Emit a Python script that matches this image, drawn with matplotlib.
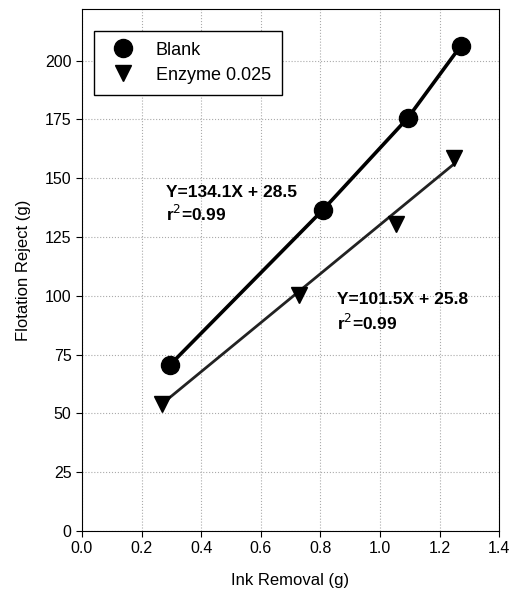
import matplotlib
matplotlib.use("Agg")
import matplotlib.pyplot as plt

plt.rcParams['font.family'] = ['Liberation Sans', 'DejaVu Sans']

# data
blank_x = [0.295, 0.809, 1.094, 1.272]
blank_y = [70.6, 136.6, 175.7, 206.4]
enz_x = [0.268, 0.730, 1.054, 1.248]
enz_y = [54.0, 100.5, 130.5, 158.7]

# fitted line for the enzyme series, end points as drawn in the picture
enz_line_x = [0.268, 1.248]
enz_line_y = [54.0, 156.0]

x_ticks = [0.0, 0.2, 0.4, 0.6, 0.8, 1.0, 1.2, 1.4]
y_ticks = [0, 25, 50, 75, 100, 125, 150, 175, 200]

fig = plt.figure(figsize=(5.14, 5.94), dpi=100)
ax = fig.add_axes([0.1595, 0.106, 0.8115, 0.879])

# lines behind, markers on top
ax.plot(blank_x, blank_y, color='black', lw=2.6, zorder=2)
ax.plot(enz_line_x, enz_line_y, color='#222222', lw=2.0, zorder=2)

ax.plot(blank_x, blank_y, 'o', color='black', ms=13, label='Blank', zorder=3)
ax.plot(enz_x, enz_y, 'v', color='black', ms=12, label='Enzyme 0.025', zorder=3)

ax.text(0.282, 144, 'Y=134.1X + 28.5', fontsize=12.5, fontweight='bold', va='center')
ax.text(0.282, 135, 'r$^2$=0.99', fontsize=12.5, fontweight='bold', va='center')
ax.text(0.856, 98.3, 'Y=101.5X + 25.8', fontsize=12.5, fontweight='bold', va='center')
ax.text(0.856, 88.5, 'r$^2$=0.99', fontsize=12.5, fontweight='bold', va='center')

ax.set_xlim(0, 1.4)
ax.set_ylim(0, 222)
ax.set_xticks(x_ticks)
ax.set_xticklabels([f'{t:.1f}' for t in x_ticks])
ax.set_yticks(y_ticks)
ax.tick_params(labelsize=11.5, direction='out', length=4)
ax.grid(True, color='#aaaaaa', linestyle=':', lw=0.8)
ax.set_axisbelow(True)

ax.set_xlabel('Ink Removal (g)', fontsize=12, labelpad=12)
ax.set_ylabel('Flotation Reject (g)', fontsize=12, labelpad=10)

leg = ax.legend(loc='upper left', bbox_to_anchor=(0.03, 0.958), fontsize=13,
                fancybox=False, framealpha=1, edgecolor='black', borderpad=0.6,
                handletextpad=0.8, labelspacing=0.45, borderaxespad=0)
leg.get_frame().set_linewidth(1.0)

fig.savefig('out.png', dpi=100)
